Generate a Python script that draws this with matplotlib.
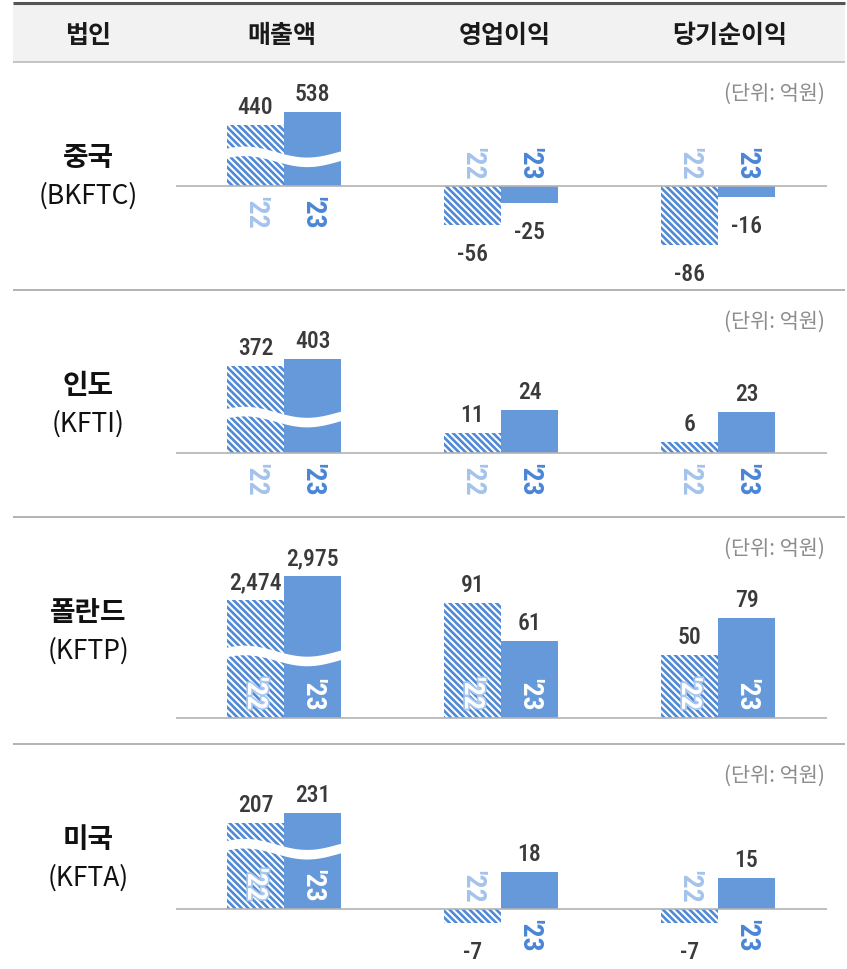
import matplotlib
matplotlib.use('Agg')
import matplotlib.pyplot as plt
import numpy as np
from matplotlib.patches import Rectangle
import matplotlib.patheffects as pe

plt.rcParams['font.family'] = ['Noto Sans CJK KR', 'DejaVu Sans']
plt.rcParams['hatch.linewidth'] = 1.9

# ---------------- data ----------------
regions = ['중국', '인도', '폴란드', '미국']
codes = ['(BKFTC)', '(KFTI)', '(KFTP)', '(KFTA)']
header_first = '법인'
metrics = ['매출액', '영업이익', '당기순이익']
years = ["'22", "'23"]
unit_label = '(단위: 억원)'

revenue_22 = [440, 372, 2474, 207]
revenue_23 = [538, 403, 2975, 231]
op_22 = [-56, 11, 91, -7]
op_23 = [-25, 24, 61, 18]
net_22 = [-86, 6, 50, -7]
net_23 = [-16, 23, 79, 15]

# ---------------- layout / style ----------------
W, H, DPI = 847, 970, 100
row_tops = [63, 291, 518, 745]
row_bottoms = [291, 518, 745, 970]
baselines = [187, 454, 719, 910]
rev_scale = [0.1376, 0.233, 0.0477, 0.416]      # px per unit
profit_scale = [0.69, 1.78, 1.26, 2.05]         # px per unit
wave_frac = [0.49, 0.42, 0.53, 0.70]
label_mode = [['out', 'out', 'out'],
              ['out', 'out', 'out'],
              ['in', 'in', 'in'],
              ['in', 'out', 'out']]
cell_centers = [284, 501, 718]
header_x = [88, 282, 505, 730]
cell_w = 217
bar_px = 57

C23 = '#6699d9'
HATCH_C = '#4f8ad6'
Y22_C = '#a4c3ec'
Y23_C = '#4a85d6'
VAL_C = '#3a3a3a'
NUM_FONT = ['Roboto Condensed', 'Noto Sans CJK KR', 'DejaVu Sans']
PT = 72.0 / DPI

fig = plt.figure(figsize=(W / DPI, H / DPI), dpi=DPI)
bg = fig.add_axes([0, 0, 1, 1])
bg.set_xlim(0, W)
bg.set_ylim(H, 0)
bg.axis('off')

# header band and rules
bg.add_patch(Rectangle((13, 4), 832, 59, facecolor='#f2f2f2', edgecolor='none'))
bg.plot([13, 845], [4, 4], color='#555555', lw=2.2, solid_capstyle='butt')
bg.plot([13, 845], [63, 63], color='#c0c0c0', lw=1.3, solid_capstyle='butt')
for y in row_tops[1:]:
    bg.plot([13, 845], [y, y], color='#a6a6a6', lw=1.2, solid_capstyle='butt')

for x, t in zip(header_x, [header_first] + metrics):
    bg.text(x, 36, t, ha='center', va='center', fontsize=18,
            fontweight='bold', color='#1a1a1a')

metric_data = [(revenue_22, revenue_23), (op_22, op_23), (net_22, net_23)]

for r in range(4):
    top, bot, base = row_tops[r], row_bottoms[r], baselines[r]
    bg.text(88, top + 95, regions[r], ha='center', va='center', fontsize=20,
            fontweight='bold', color='#111111')
    bg.text(88, top + 133, codes[r], ha='center', va='center', fontsize=19,
            color='#111111')
    bg.text(825, top + 31, unit_label, ha='right', va='center', fontsize=15,
            color='#8c8c8c')

    for m in range(3):
        v22 = metric_data[m][0][r]
        v23 = metric_data[m][1][r]
        s = rev_scale[r] if m == 0 else profit_scale[r]
        cx = cell_centers[m]
        left = cx - cell_w / 2
        ax = fig.add_axes([left / W, 1 - bot / H, cell_w / W, (bot - top) / H])
        half = cell_w / bar_px / 2
        ax.set_xlim(-half, half)
        ax.set_ylim(-(bot - base) / s, (base - top) / s)
        ax.axis('off')
        ax.axhline(0, color='#b3b3b3', lw=1.2, zorder=5)

        xs = [-0.5, 0.5]
        vals = [v22, v23]
        bars = ax.bar(xs, vals, width=1.0, color=['white', C23], linewidth=0,
                      zorder=2)
        bars[0].set_edgecolor(HATCH_C)
        bars[0].set_hatch('\\' * 5)
        bars[0].set_linewidth(0)

        # broken-axis wave on revenue bars
        if m == 0:
            u = np.linspace(-1.03, 1.03, 300)
            yc = wave_frac[r] * min(v22, v23)
            A = 5.5 / s
            t = 4.8 / s
            yy = yc + A * np.cos(2 * np.pi * (u + 0.7) / 2.2)
            ax.fill_between(u, yy - t, yy + t, color='white', lw=0, zorder=3)

        # value labels
        for x, v in zip(xs, vals):
            off = 12 if v >= 0 else -35
            ax.annotate(f'{v:,}', xy=(x, v), xytext=(0, off * PT),
                        textcoords='offset points', ha='center',
                        va='baseline', fontsize=17, color=VAL_C,
                        family=NUM_FONT, fontweight='medium',
                        annotation_clip=False)

        # year labels
        mode = label_mode[r][m]
        for i, (x, v) in enumerate(zip(xs, vals)):
            kw = dict(textcoords='offset points', ha='center', rotation=-90,
                      fontsize=20, family=NUM_FONT, fontweight='bold',
                      annotation_clip=False, zorder=6)
            if mode == 'in':
                txt = ax.annotate(years[i], xy=(x, 0), xytext=(0, 8 * PT),
                                  va='bottom', color='white', **kw)
                if i == 0:
                    txt.set_path_effects([pe.withStroke(linewidth=2.5,
                                                        foreground='#a8c7ee')])
            else:
                col = Y22_C if i == 0 else Y23_C
                if v >= 0:
                    ax.annotate(years[i], xy=(x, 0), xytext=(0, -9 * PT),
                                va='top', color=col, **kw)
                else:
                    ax.annotate(years[i], xy=(x, 0), xytext=(0, 7 * PT),
                                va='bottom', color=col, **kw)

fig.savefig('out.png', dpi=DPI)
